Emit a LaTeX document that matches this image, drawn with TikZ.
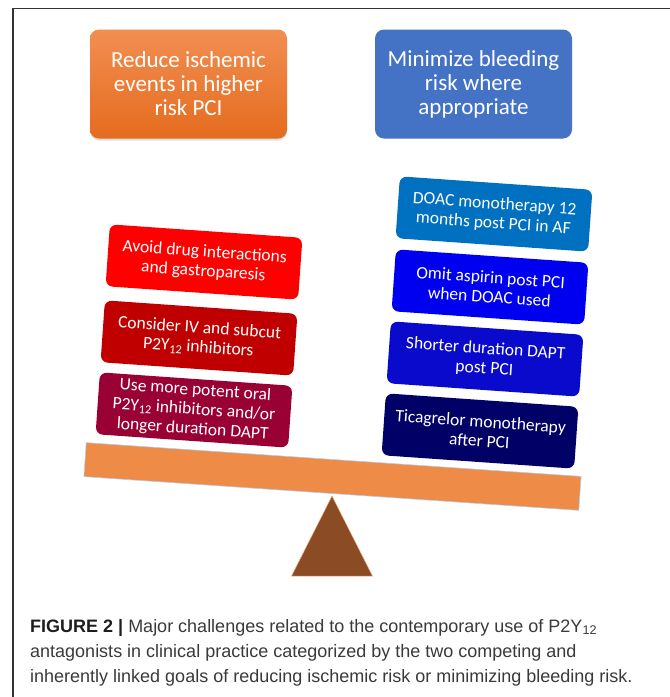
\documentclass[tikz,border=0pt]{standalone}
\usepackage{fontspec}
\setmainfont{Carlito}
\newfontfamily\capfont{Liberation Sans}
\usetikzlibrary{shadows}
\definecolor{OrTop}{HTML}{F28E52}
\definecolor{OrBot}{HTML}{E46C1E}
\definecolor{GoalBlue}{HTML}{4472C4}
\definecolor{LRed}{HTML}{FF0000}
\definecolor{LDark}{HTML}{C00000}
\definecolor{LMaroon}{HTML}{990033}
\definecolor{RSky}{HTML}{0070C0}
\definecolor{RBlue}{HTML}{0000F0}
\definecolor{RMid}{HTML}{0A0ACC}
\definecolor{RNavy}{HTML}{000066}
\definecolor{BeamOr}{HTML}{ED8B47}
\definecolor{BeamEdge}{HTML}{B4CBE8}
\definecolor{Fulc}{HTML}{8A4B25}
\definecolor{FulcEdge}{HTML}{F4B183}
\definecolor{CapText}{HTML}{3A3A3A}
\definecolor{CapBold}{HTML}{1E1E1E}
\definecolor{FrameCol}{HTML}{333333}
\tikzset{
  topbox/.style={rounded corners=9pt, minimum width=197pt, minimum height=109pt,
    text=white, align=center, inner sep=2pt, font=\fontsize{23}{24}\selectfont},
  smallbox/.style={rounded corners=7pt, minimum width=193pt, minimum height=62pt,
    text=white, align=center, inner sep=2pt, rotate=-4, font=\fontsize{17.5}{19.5}\selectfont},
  beamstyle/.style={minimum width=496pt, minimum height=34pt, inner sep=0pt,
    fill=BeamOr, draw=BeamEdge, line width=0.6pt, rotate=-3.9},
  capstyle/.style={anchor=base west, inner sep=0pt, text=CapText,
    font=\capfont\fontsize{18}{25}\selectfont},
  framestyle/.style={draw=FrameCol, line width=1.1pt}
}
\begin{document}
\begin{tikzpicture}[x=1pt,y=-1pt]
\useasboundingbox (0,0) rectangle (670,697);
\fill[white] (0,0) rectangle (670,697);
\draw[framestyle] (13,697) -- (13,8.8) -- (670,8.8);

\node[topbox, top color=OrTop, bottom color=OrBot,
  drop shadow={shadow xshift=0pt, shadow yshift=-2pt, opacity=0.25}] (goalL) at (188.5,84)
  {Reduce ischemic\\events in higher\\risk PCI};
\node[topbox, fill=GoalBlue] (goalR) at (473.5,84)
  {Minimize bleeding\\risk where\\appropriate};

\node[smallbox, fill=LRed] (l1) at (204,262) {Avoid drug interactions\\and gastroparesis};
\node[smallbox, fill=LDark] (l2) at (199,338) {Consider IV and subcut\\P2Y\textsubscript{12} inhibitors};
\node[smallbox, fill=LMaroon] (l3) at (194,410) {Use more potent oral\\P2Y\textsubscript{12} inhibitors and/or\\longer duration DAPT};

\node[smallbox, fill=RSky] (r1) at (494,214) {DOAC monotherapy 12\\months post PCI in AF};
\node[smallbox, fill=RBlue] (r2) at (490,287) {Omit aspirin post PCI\\when DOAC used};
\node[smallbox, fill=RMid] (r3) at (485,359) {Shorter duration DAPT\\post PCI};
\node[smallbox, fill=RNavy] (r4) at (480,431) {Ticagrelor monotherapy\\after PCI};

\node[beamstyle] (beam) at (332.5,476.5) {};
\fill[Fulc, draw=FulcEdge, line width=0.5pt] (332,496) -- (372.5,576) -- (291.5,576) -- cycle;

\node[capstyle] (cap1) at (30,632) {{\color{CapBold}\bfseries FIGURE 2 |} Major challenges related to the contemporary use of P2Y\textsubscript{12}};
\node[capstyle] (cap2) at (30,657) {antagonists in clinical practice categorized by the two competing and};
\node[capstyle] (cap3) at (30,682) {inherently linked goals of reducing ischemic risk or minimizing bleeding risk.};
\end{tikzpicture}
\end{document}
